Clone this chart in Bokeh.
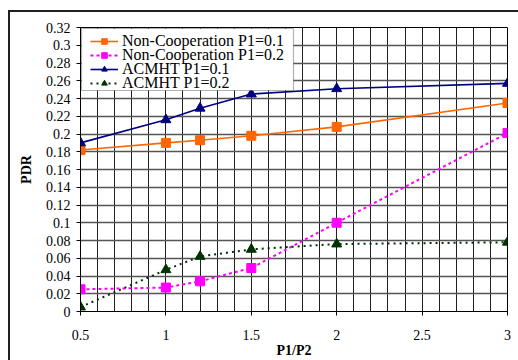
from bokeh.plotting import figure
from bokeh.embed import file_html
from bokeh.resources import INLINE
from bokeh.models import FixedTicker, Legend, LegendItem, BoxAnnotation

# ---- data ----
x_vals = [0.5, 1.0, 1.2, 1.5, 2.0, 3.0]
noncoop_p1_01 = [0.182, 0.190, 0.193, 0.198, 0.208, 0.235]
noncoop_p1_02 = [0.025, 0.027, 0.034, 0.049, 0.100, 0.201]
acmht_p1_01 = [0.190, 0.216, 0.229, 0.245, 0.251, 0.257]
acmht_p1_02 = [0.005, 0.047, 0.062, 0.070, 0.076, 0.078]
series_names = ["Non-Cooperation P1=0.1", "Non-Cooperation P1=0.2",
                "ACMHT P1=0.1", "ACMHT P1=0.2"]

x_ticks = [0.5, 1.0, 1.5, 2.0, 2.5, 3.0]
x_tick_labels = ["0.5", "1", "1.5", "2", "2.5", "3"]
x_minor = [0.5 + 0.1 * i for i in range(26)]
y_ticks = [round(0.02 * i, 2) for i in range(17)]
y_tick_labels = ["0", "0.02", "0.04", "0.06", "0.08", "0.1", "0.12", "0.14", "0.16",
                 "0.18", "0.2", "0.22", "0.24", "0.26", "0.28", "0.3", "0.32"]

FONT = "Liberation Serif"

p = figure(width=518, height=360, output_backend="svg", toolbar_location=None,
           x_range=(0.5, 3.0), y_range=(0.0, 0.32),
           min_border_left=80, min_border_right=11, min_border_top=27, min_border_bottom=46,
           styles={"background-color": "white",
                   "background-image": "linear-gradient(#202020, #202020), linear-gradient(#202020, #202020)",
                   "background-position": "8px 10px, 8px 10px",
                   "background-size": "2px 100%, 100% 2px",
                   "background-repeat": "no-repeat"})
p.background_fill_color = "white"
p.border_fill_alpha = 0
p.outline_line_color = "black"
p.outline_line_width = 1

# axes
p.xaxis.ticker = FixedTicker(ticks=x_ticks, minor_ticks=x_minor)
p.xaxis.major_label_overrides = {t: l for t, l in zip(x_ticks, x_tick_labels)}
p.yaxis.ticker = FixedTicker(ticks=y_ticks)
p.yaxis.major_label_overrides = {t: l for t, l in zip(y_ticks, y_tick_labels)}
for ax in (p.xaxis, p.yaxis):
    ax.axis_line_color = "black"
    ax.major_tick_line_color = "black"
    ax.major_tick_out = 4
    ax.major_tick_in = 0
    ax.minor_tick_line_color = None
    ax.major_label_text_font = FONT
    ax.major_label_text_font_size = "14px"
    ax.major_label_text_color = "black"
    ax.axis_label_text_font = FONT
    ax.axis_label_text_font_size = "14px"
    ax.axis_label_text_font_style = "bold"
    ax.axis_label_text_color = "black"
p.xaxis.axis_label = "P1/P2"
p.yaxis.axis_label = "PDR"
p.xaxis.major_label_standoff = 14
p.xaxis.axis_label_standoff = 0
p.yaxis.major_label_standoff = 6
p.yaxis.axis_label_standoff = 9

# grid
p.xgrid.grid_line_color = "#202020"
p.xgrid.grid_line_width = 1
p.xgrid.minor_grid_line_color = "#202020"
p.xgrid.minor_grid_line_width = 1
p.ygrid.grid_line_color = "#555555"
p.ygrid.grid_line_width = 1.3

# series
r1l = p.line(x_vals, noncoop_p1_01, line_color="#FF6600", line_width=1.6)
r1m = p.scatter(x_vals, noncoop_p1_01, marker="square", size=9, fill_color="#FF6600", line_color="#FF6600")
r2l = p.line(x_vals, noncoop_p1_02, line_color="#FF00FF", line_width=2, line_dash="3 3")
r2m = p.scatter(x_vals, noncoop_p1_02, marker="square", size=9, fill_color="#FF00FF", line_color="#FF00FF")
r3l = p.line(x_vals, acmht_p1_01, line_color="#000080", line_width=1.6)
r3m = p.scatter(x_vals, acmht_p1_01, marker="triangle", size=10, fill_color="#000080", line_color="#000080")
r4l = p.line(x_vals, acmht_p1_02, line_color="#003300", line_width=2, line_dash="2 4")
r4m = p.scatter(x_vals, acmht_p1_02, marker="triangle", size=10, fill_color="#003300", line_color="#003300")

# legend box (canvas pixels)
p.add_layout(BoxAnnotation(left=81, right=293, top=28, bottom=90,
                           left_units="canvas", right_units="canvas",
                           top_units="canvas", bottom_units="canvas",
                           fill_color="white", fill_alpha=1,
                           line_color="black", line_width=1.2, editable=False))

# one legend per row so the rows can sit tightly like the original
row_renderers = [[r1l, r1m], [r2l, r2m], [r3l, r3m], [r4l, r4m]]
row_offsets = [261, 247, 233, 219]
for name, rends, vy in zip(series_names, row_renderers, row_offsets):
    lg = Legend(items=[LegendItem(label=name, renderers=rends)], location=(10, vy))
    lg.margin = 0
    lg.padding = 0
    lg.spacing = 0
    lg.glyph_width = 28
    lg.glyph_height = 14
    lg.label_height = 14
    lg.label_standoff = 4
    lg.label_text_font = FONT
    lg.label_text_font_size = "16px"
    lg.label_text_color = "black"
    lg.border_line_color = None
    lg.background_fill_alpha = 0
    p.add_layout(lg)

open("out.html", "w").write(file_html(p, INLINE))
